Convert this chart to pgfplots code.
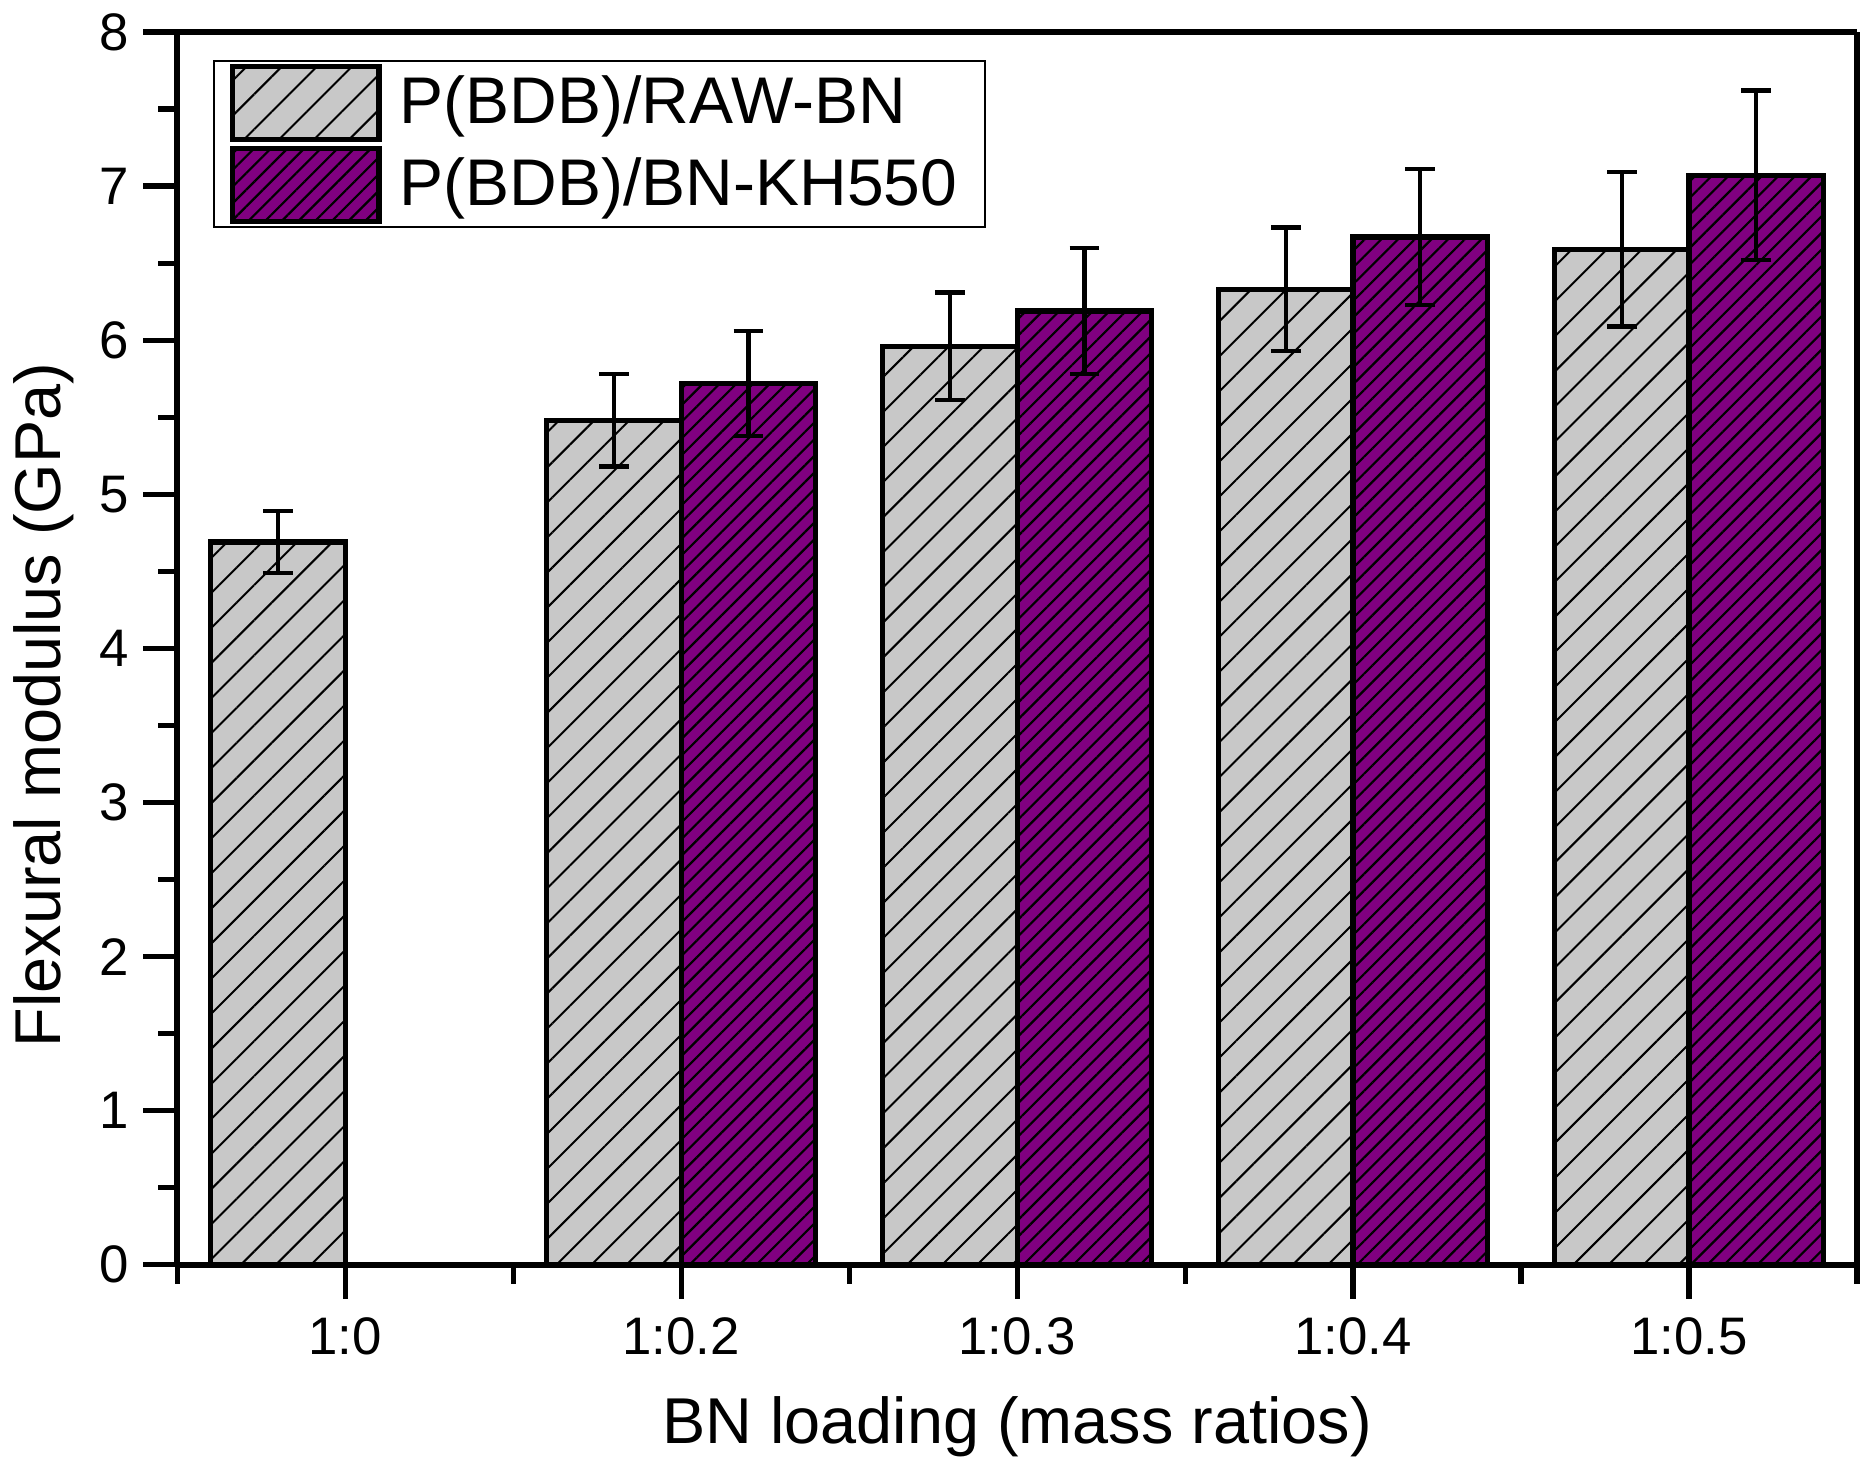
\documentclass[border=0pt]{standalone}
\usepackage{fontspec}
\setmainfont{Liberation Sans}
\usepackage{pgfplots}
\pgfplotsset{compat=1.18}
\usetikzlibrary{patterns.meta}
\definecolor{bargray}{RGB}{200,200,200}
\definecolor{barpurple}{RGB}{128,0,128}
\pgfplotsset{
  barlegend/.style={legend image code/.code={\draw[##1] (0pt,-9.35pt) rectangle (36.7pt,8.95pt);}}
}

\pgfplotstableread{
x   y     e
0   4.69  0.20
1   5.48  0.30
2   5.96  0.35
3   6.33  0.40
4   6.59  0.50
}\rawbn
\pgfplotstableread{
x   y     e
1   5.72  0.34
2   6.19  0.41
3   6.67  0.44
4   7.07  0.55
}\kh

\begin{document}
\begin{tikzpicture}
\begin{axis}[
  scale only axis, width=420pt, height=308.25pt,
  xmin=-0.5, xmax=4.5, ymin=0, ymax=8,
  ybar, bar width=0.4,
  xtick={0,1,2,3,4}, xticklabels={1:0,1:0.2,1:0.3,1:0.4,1:0.5},
  minor xtick={-0.5,0.5,1.5,2.5,3.5,4.5},
  ytick={0,1,2,3,4,5,6,7,8}, minor ytick={0.5,1.5,2.5,3.5,4.5,5.5,6.5,7.5},
  tick align=outside, xtick pos=bottom, ytick pos=left,
  major tick length=8.5pt, minor tick length=4.8pt,
  major tick style={black, line width=1.3pt},
  minor tick style={black, line width=1.3pt},
  separate axis lines,
  axis line style={black, line width=1.5pt},
  every outer x axis line/.append style={black, line width=1.5pt},
  every outer y axis line/.append style={black, line width=1.5pt},
  axis on top,
  /pgf/number format/assume math mode=true,
  ticklabel style={font=\fontsize{13.2}{15}\selectfont},
  xticklabel style={anchor=base, yshift=-14pt},
  yticklabel style={anchor=east},
  label style={font=\fontsize{16.2}{19}\selectfont},
  xlabel={BN loading (mass ratios)},
  ylabel={Flexural modulus (GPa)},
  xlabel style={at={(axis description cs:0.5,-0.14517)}, anchor=base},
  ylabel style={at={(axis description cs:-0.06964,0.454)}, anchor=base},
  legend style={at={(axis description cs:0.021,0.977)}, anchor=north west,
    draw=black, line width=0.5pt, font=\fontsize{16.5}{19}\selectfont,
    inner xsep=4pt, inner ysep=0.6pt, row sep=0.9pt,
    nodes={inner sep=0pt},
    /tikz/column 1/.style={column sep=4.6pt}},
  legend cell align=left,
]
\addplot[bar shift=-0.2, fill=bargray, draw=black, line width=1.3pt,
  postaction={pattern={Lines[angle=45,distance=6.2pt,line width=0.5pt]}, pattern color=black},
  barlegend,
  error bars/.cd, y dir=both, y explicit,
  error bar style={line width=1.1pt, black},
  error mark options={rotate=90, line width=1.1pt, mark size=3.7pt, black}]
  table[x=x, y=y, y error=e]{\rawbn};
\addlegendentry{P(BDB)/RAW-BN}
\addplot[bar shift=0.2, fill=barpurple, draw=black, line width=1.3pt,
  postaction={pattern={Lines[angle=45,distance=2.95pt,line width=0.55pt]}, pattern color=black},
  barlegend,
  error bars/.cd, y dir=both, y explicit,
  error bar style={line width=1.1pt, black},
  error mark options={rotate=90, line width=1.1pt, mark size=3.7pt, black}]
  table[x=x, y=y, y error=e]{\kh};
\addlegendentry{P(BDB)/BN-KH550\rule{3pt}{0pt}}
\end{axis}
\end{tikzpicture}
\end{document}
